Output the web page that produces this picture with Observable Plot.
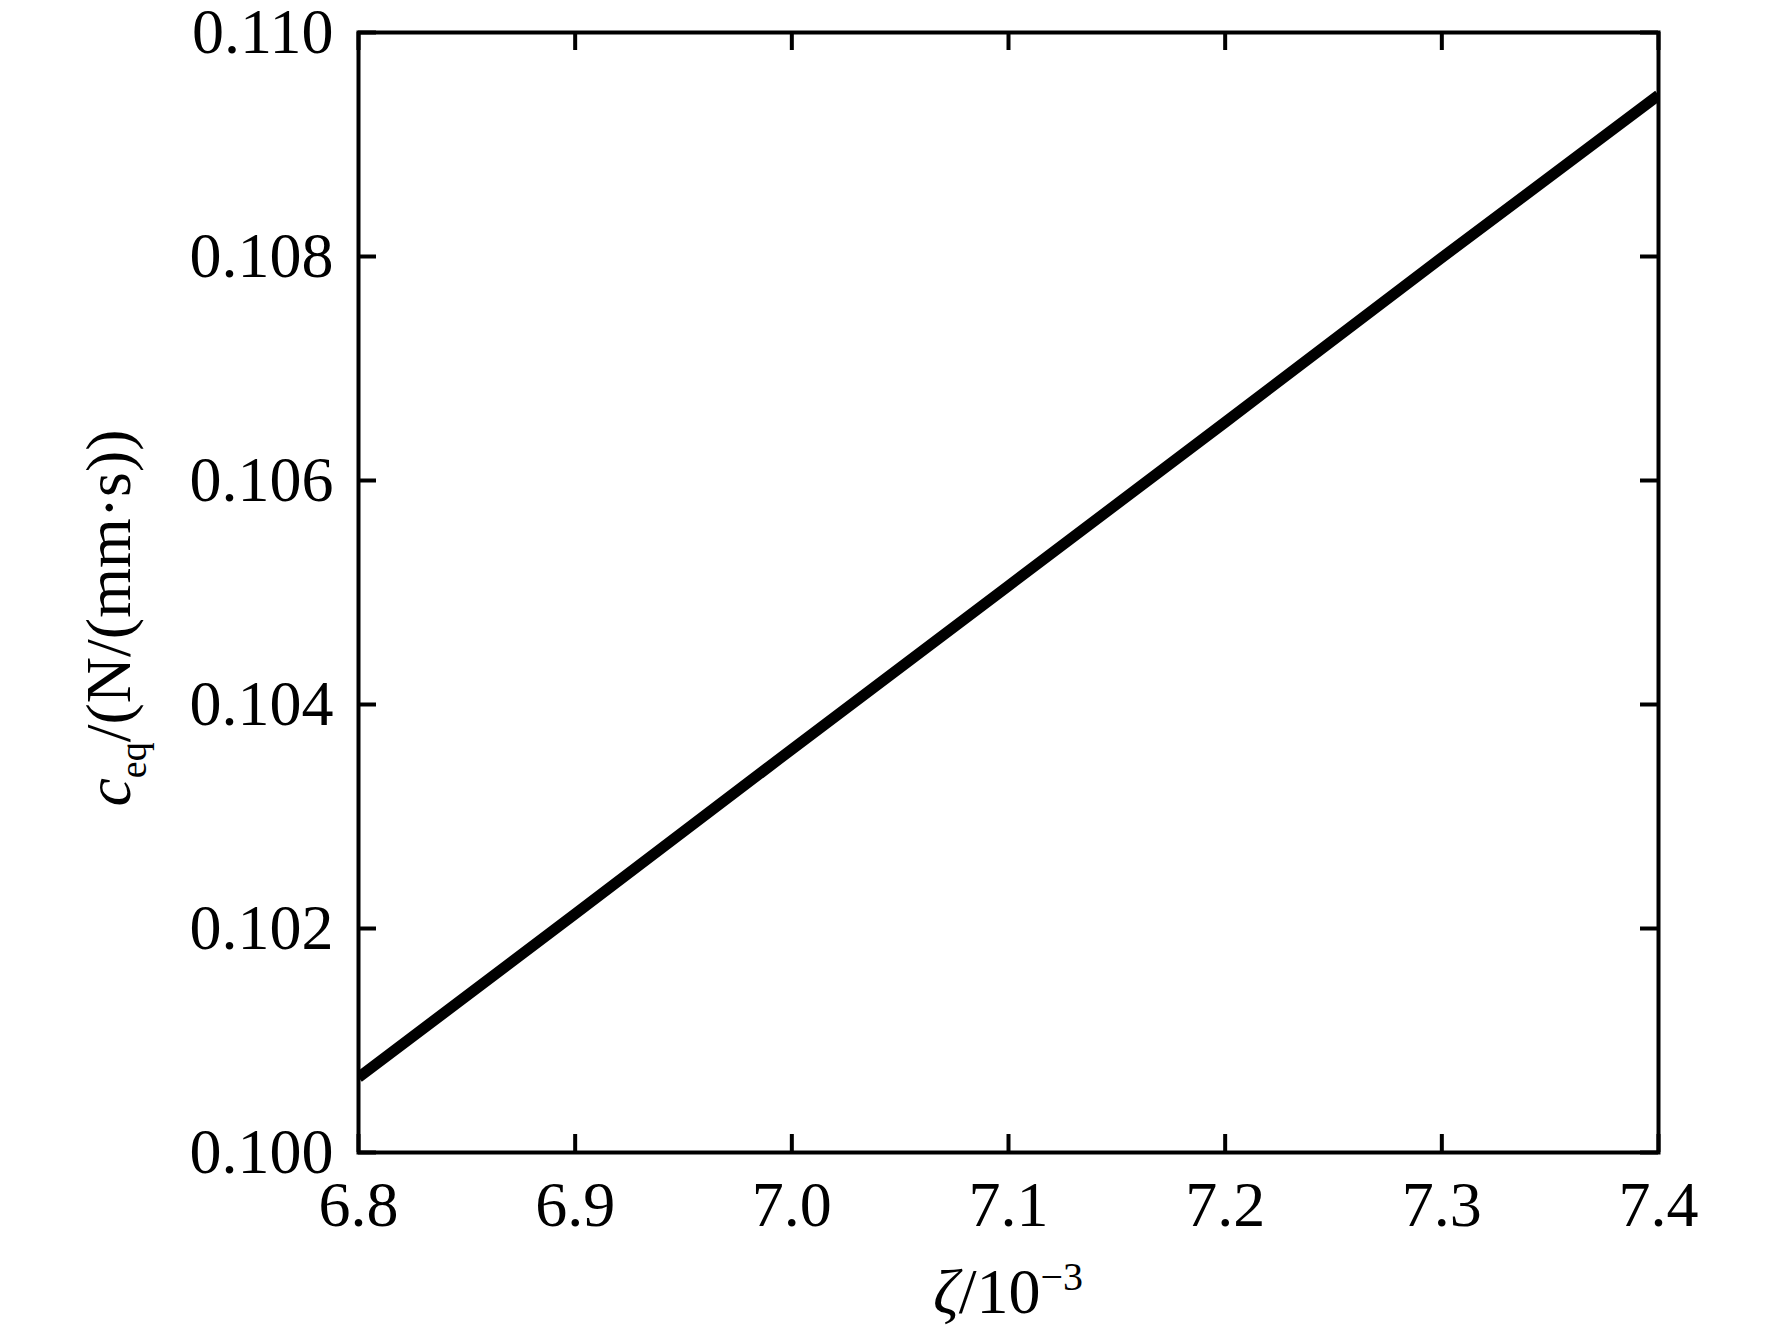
<!DOCTYPE html>
<html>
<head>
<meta charset="utf-8">
<script src="https://cdn.jsdelivr.net/npm/d3@7"></script>
<script src="https://cdn.jsdelivr.net/npm/@observablehq/plot@0.6"></script>
<style>
  body { margin: 0; background: #fff; overflow: hidden; }
  svg { display: block; }
</style>
</head>
<body>
<div id="chart"></div>
<script>
// damping ratio (x 10^-3) vs equivalent damping coefficient
const zeta = [6.8, 6.9, 7.0, 7.1, 7.2, 7.3, 7.4];
const ceq = [0.10067, 0.10213, 0.10360, 0.10506, 0.10652, 0.10799, 0.10944];
const xTicks = [6.8, 6.9, 7.0, 7.1, 7.2, 7.3, 7.4];
const yTicks = [0.100, 0.102, 0.104, 0.106, 0.108, 0.110];

const width = 1772;
const height = 1333;
const marginTop = 32;
const marginRight = 114;
const marginBottom = 181;
const marginLeft = 358;
const tickLen = 18;
const innerW = width - marginLeft - marginRight;
const innerH = height - marginTop - marginBottom;
const font = '"Liberation Serif", "Times New Roman", serif';

const data = zeta.map((z, i) => ({zeta: z, ceq: ceq[i]}));

const chart = Plot.plot({
  width,
  height,
  marginTop,
  marginRight,
  marginBottom,
  marginLeft,
  style: {fontFamily: font, background: "white", color: "black"},
  x: {domain: [6.8, 7.4]},
  y: {domain: [0.100, 0.110]},
  marks: [
    Plot.line(data, {x: "zeta", y: "ceq", stroke: "black", strokeWidth: 11, strokeLinecap: "butt", clip: true}),
    // inward ticks on all four sides
    Plot.tickX(xTicks, {x: d => d, stroke: "black", strokeWidth: 4, insetTop: innerH - tickLen}),
    Plot.tickX(xTicks, {x: d => d, stroke: "black", strokeWidth: 4, insetBottom: innerH - tickLen}),
    Plot.tickY(yTicks, {y: d => d, stroke: "black", strokeWidth: 4, insetRight: innerW - tickLen}),
    Plot.tickY(yTicks, {y: d => d, stroke: "black", strokeWidth: 4, insetLeft: innerW - tickLen}),
    Plot.frame({stroke: "black", strokeWidth: 4}),
    Plot.axisX({ticks: xTicks, tickSize: 0, tickPadding: 28, fontSize: 64, tickFormat: d => d.toFixed(1), label: null}),
    Plot.axisY({ticks: yTicks, tickSize: 0, tickPadding: 25, fontSize: 64, tickFormat: d => d.toFixed(3), label: null}),
  ],
});

document.getElementById("chart").append(chart);

const svg = d3.select(chart);

const xt = svg.append("text")
  .attr("x", marginLeft + innerW / 2)
  .attr("y", 1313)
  .attr("text-anchor", "middle")
  .attr("font-family", font)
  .attr("font-size", 64)
  .attr("fill", "black");
xt.append("tspan").attr("font-style", "italic").text("ζ");
xt.append("tspan").text("/10");
xt.append("tspan").attr("font-size", 40).attr("dy", -23).text("−3");

const yt = svg.append("text")
  .attr("transform", "translate(130,618) rotate(-90)")
  .attr("text-anchor", "middle")
  .attr("font-family", font)
  .attr("font-size", 64)
  .attr("fill", "black");
yt.append("tspan").attr("font-style", "italic").text("c");
yt.append("tspan").attr("font-size", 38).attr("dy", 16).text("eq");
yt.append("tspan").attr("dy", -16).text("/(N/(mm·s))");
</script>
</body>
</html>
